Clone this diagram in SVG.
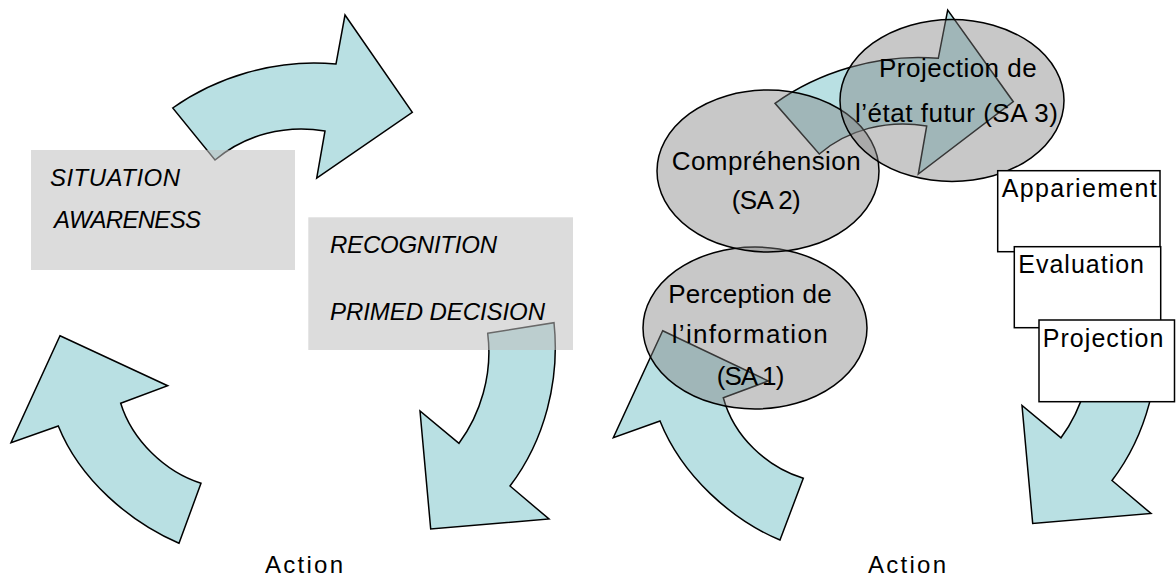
<svg xmlns="http://www.w3.org/2000/svg" width="1176" height="576" viewBox="0 0 1176 576">
<style>
.arrow{fill:#b9e0e3;stroke:#000;stroke-width:1.5;stroke-linejoin:miter}
.gbox{fill:#c0c0c0;fill-opacity:0.55;stroke:none}
.ell{fill:#7f7f7f;fill-opacity:0.43;stroke:#000;stroke-width:1.5}
.wbox{fill:#fff;stroke:#000;stroke-width:1.5}
.t{font-family:"Liberation Sans",Arial,sans-serif;font-size:24px;fill:#000}
.e{font-size:26px}
.b{font-size:25px}
.it{font-style:italic}
</style>
<rect width="1176" height="576" fill="#fff"/>
<g id="connectors">
<path class="arrow" d="M172.7,108 C215,78 275,58 336,64 L345,15 L412.3,112.3 L316.7,178 L325,131 C285,124 245,135 215,160 Z"/>
<path class="arrow" d="M487.7,333.3 L554,322.7 C560,380 545,440 510,486 L549,519 L430.7,529 L420,411 L459,443.3 C480,415 493,375 487.7,333.3 Z"/>
<path class="arrow" d="M60,335.7 L167.7,385.7 L120.7,403.3 C132,440 165,472 201,483.3 L179,543.3 C130,522 80,480 58.3,426 L11,442.7 Z"/>
<path class="arrow" d="M775,103.3 C817,73 877,53 938.3,58.3 L947.7,10 L1013.3,101.7 L918.3,174 L926.7,126 C887,119 847,130 819.3,154 Z"/>
<path class="arrow" d="M1089.7,327.8 L1156,317.2 C1162,374.5 1147,434.5 1112,480.5 L1151,513.5 L1032.7,523.5 L1022,405.5 L1061,437.8 C1082,409.5 1095,369.5 1089.7,327.8 Z"/>
<path class="arrow" d="M662.7,330.7 L768.3,381 L723.3,397.7 C734,437 767,467 803.3,478.3 L780,540 C732,520 682,476 660,421 L613.3,437.7 Z"/>
</g>
<g id="situation-awareness">
<rect class="gbox" x="31" y="150" width="264" height="120"/>
<text class="t it" x="50" y="185.7" textLength="130" lengthAdjust="spacing">SITUATION</text>
<text class="t it" x="54" y="228.3" textLength="147" lengthAdjust="spacing">AWARENESS</text>
</g>
<g id="recognition-primed-decision">
<rect class="gbox" x="308.3" y="217.3" width="264.7" height="132.7"/>
<text class="t it" x="330" y="252.7" textLength="167" lengthAdjust="spacing">RECOGNITION</text>
<text class="t it" x="330" y="320" textLength="215" lengthAdjust="spacing">PRIMED DECISION</text>
</g>
<g id="sa1">
<ellipse class="ell" cx="755" cy="328" rx="112" ry="81"/>
</g>
<g id="sa2">
<ellipse class="ell" cx="768" cy="171" rx="111" ry="81"/>
</g>
<g id="sa3">
<ellipse class="ell" cx="952" cy="100.5" rx="112" ry="81"/>
</g>
<g id="sa-labels">
<text class="t e" x="671.7" y="170" textLength="189" lengthAdjust="spacing">Compréhension</text>
<text class="t e" x="731.7" y="209.3" textLength="69" lengthAdjust="spacing">(SA 2)</text>
<text class="t e" x="879" y="77.3" textLength="157.7" lengthAdjust="spacing">Projection de</text>
<text class="t e" x="855" y="121.7" textLength="203" lengthAdjust="spacing">l’état futur (SA 3)</text>
<text class="t e" x="668.3" y="303.3" textLength="163.3" lengthAdjust="spacing">Perception de</text>
<text class="t e" x="671.7" y="343.3" textLength="156" lengthAdjust="spacing">l’information</text>
<text class="t e" x="716.7" y="385" textLength="67.6" lengthAdjust="spacing">(SA 1)</text>
</g>
<g id="appariement">
<rect class="wbox" x="997.7" y="170.7" width="162.3" height="81"/>
<text class="t b" x="1001.7" y="196.7" textLength="155" lengthAdjust="spacing">Appariement</text>
</g>
<g id="evaluation">
<rect class="wbox" x="1014.3" y="246.7" width="146.4" height="81"/>
<text class="t b" x="1018.3" y="273.3" textLength="125.7" lengthAdjust="spacing">Evaluation</text>
</g>
<g id="projection">
<rect class="wbox" x="1039" y="320" width="135.5" height="81.7"/>
<text class="t b" x="1042.7" y="347.3" textLength="120.7" lengthAdjust="spacing">Projection</text>
</g>
<g id="action-left">
<text class="t" x="265" y="573" font-size="23" textLength="78" lengthAdjust="spacing">Action</text>
</g>
<g id="action-right">
<text class="t" x="868" y="573" font-size="23" textLength="78" lengthAdjust="spacing">Action</text>
</g>
</svg>
